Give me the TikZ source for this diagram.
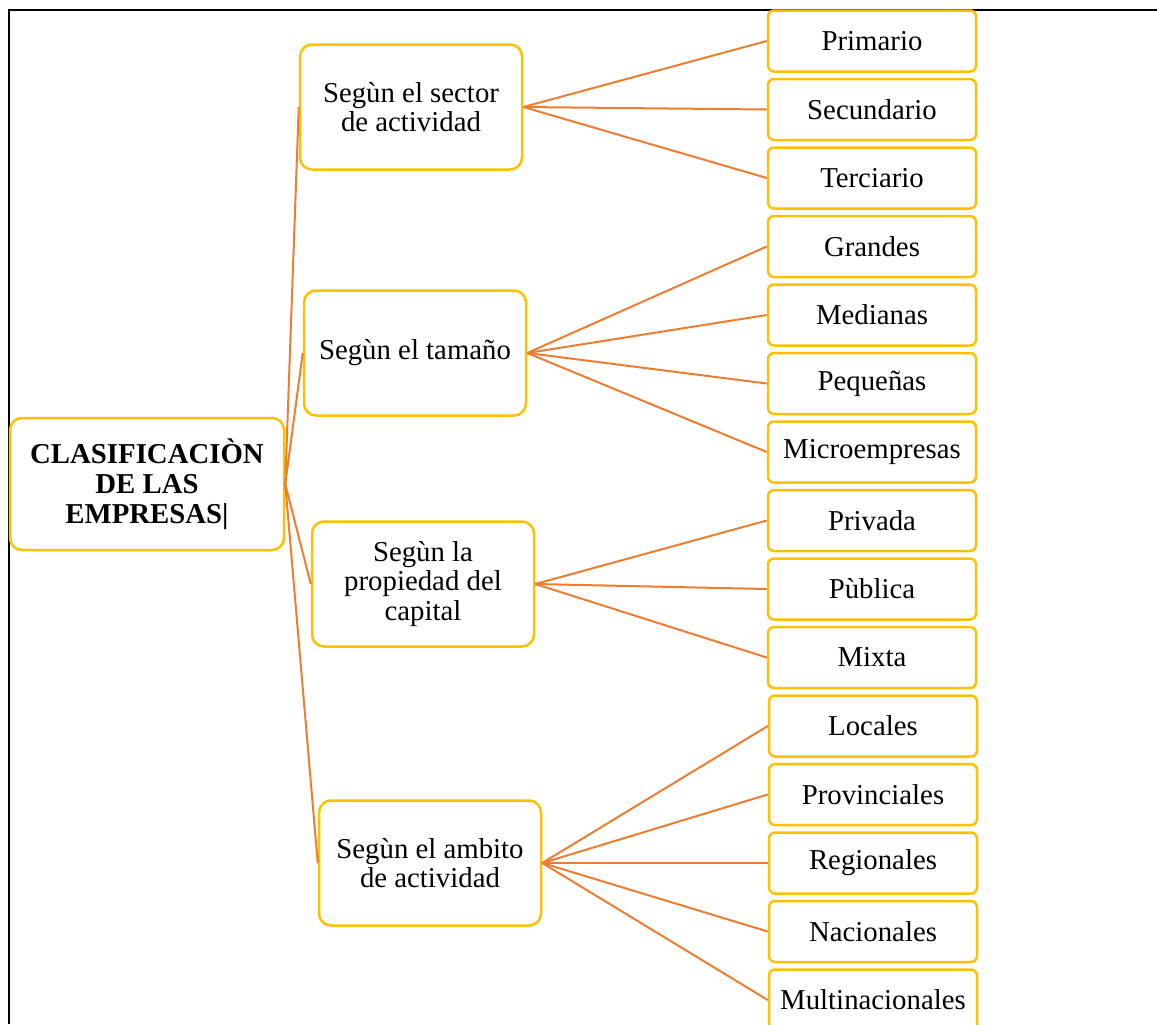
\documentclass[tikz,border=0pt]{standalone}
\usepackage{fontspec}
\setmainfont{Liberation Serif}
\usepackage{xcolor}
\usepackage{tikz}
\definecolor{boxgold}{HTML}{FFC000}
\definecolor{lineorange}{HTML}{ED7D31}

\begin{document}
\begin{tikzpicture}[x=0.5pt,y=-0.5pt]
	\tikzstyle{rootbox}=[draw=boxgold,line width=1.25pt,rounded corners=6pt,minimum width=137pt,minimum height=66pt,inner sep=2pt,align=center,font=\fontsize{14.4}{15}\selectfont\bfseries]
	\tikzstyle{midbox}=[draw=boxgold,line width=1.25pt,rounded corners=6pt,minimum width=111pt,minimum height=62.5pt,inner sep=2pt,align=center,font=\fontsize{14.4}{14.8}\selectfont]
	\tikzstyle{leafbox}=[draw=boxgold,line width=1.25pt,rounded corners=3pt,minimum width=104pt,minimum height=30.5pt,inner sep=2pt,align=center,font=\fontsize{14.4}{14.8}\selectfont]
	\useasboundingbox (0,0) rectangle (1157,1024);
	% marco
	\draw[line width=1pt] (9,1024) -- (9,10) -- (1157,10);
	% raiz
	\node[rootbox](clasif) at (147,484){CLASIFICACIÒN\\DE LAS\\EMPRESAS|};
	% criterios
	\node[midbox](sector) at (411,107){Segùn el sector\\de actividad};
	\node[midbox](tamano) at (415,353){Segùn el tamaño};
	\node[midbox](capital) at (423,584){Segùn la\\propiedad del\\capital};
	\node[midbox](ambito) at (430,863){Segùn el ambito\\de actividad};
	% tipos
	\node[leafbox](primario) at (872,41){Primario};
	\node[leafbox](secundario) at (872,109.5){Secundario};
	\node[leafbox](terciario) at (872,178){Terciario};
	\node[leafbox](grandes) at (872,246.5){Grandes};
	\node[leafbox](medianas) at (872,315){Medianas};
	\node[leafbox](pequenas) at (872,383.5){Pequeñas};
	\node[leafbox](micro) at (872,452){Microempresas};
	\node[leafbox](privada) at (872,520.5){Privada};
	\node[leafbox](publica) at (872,589){Pùblica};
	\node[leafbox](mixta) at (872,657.5){Mixta};
	\node[leafbox](locales) at (873,726){Locales};
	\node[leafbox](provinciales) at (873,794.5){Provinciales};
	\node[leafbox](regionales) at (873,863){Regionales};
	\node[leafbox](nacionales) at (873,931.5){Nacionales};
	\node[leafbox](multinac) at (873,1000){Multinacionales};
	\path[-,color=lineorange,line width=1pt]
		(clasif.east) edge (sector.west)
		(clasif.east) edge (tamano.west)
		(clasif.east) edge (capital.west)
		(clasif.east) edge (ambito.west)
		(sector.east) edge (primario.west)
		(sector.east) edge (secundario.west)
		(sector.east) edge (terciario.west)
		(tamano.east) edge (grandes.west)
		(tamano.east) edge (medianas.west)
		(tamano.east) edge (pequenas.west)
		(tamano.east) edge (micro.west)
		(capital.east) edge (privada.west)
		(capital.east) edge (publica.west)
		(capital.east) edge (mixta.west)
		(ambito.east) edge (locales.west)
		(ambito.east) edge (provinciales.west)
		(ambito.east) edge (regionales.west)
		(ambito.east) edge (nacionales.west)
		(ambito.east) edge (multinac.west);
\end{tikzpicture}
\end{document}
